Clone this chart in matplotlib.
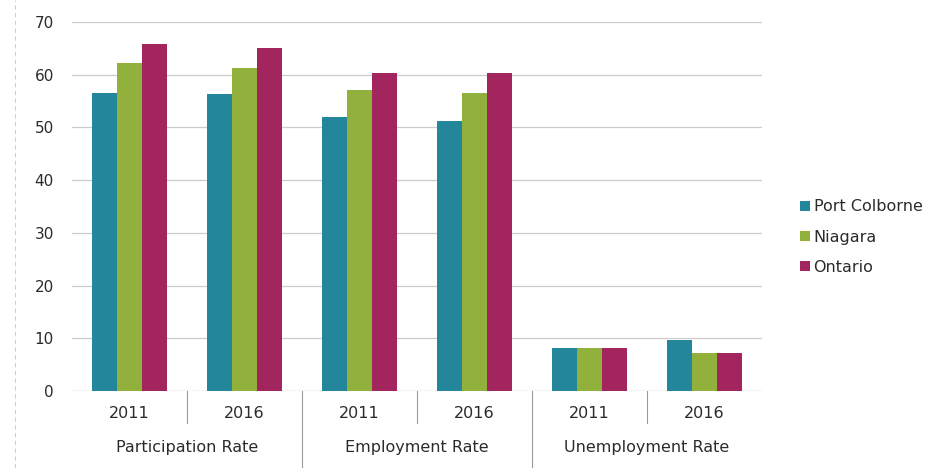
import numpy as np
import matplotlib.pyplot as plt
from matplotlib.lines import Line2D
import matplotlib.transforms as mtransforms

# ---- data ----
groups = ["Participation Rate", "Employment Rate", "Unemployment Rate"]
years = ["2011", "2016"]
series = ["Port Colborne", "Niagara", "Ontario"]
port_colborne = [56.6, 56.3, 51.9, 51.2, 8.2, 9.6]
niagara = [62.3, 61.3, 57.1, 56.6, 8.2, 7.2]
ontario = [65.8, 65.0, 60.4, 60.3, 8.1, 7.3]

colors = ["#23869a", "#91b03c", "#a3255d"]
txt = "#2b2b2b"

fig = plt.figure(figsize=(9.33, 4.68), dpi=100)
ax = fig.add_axes([72/933, 1-391/468, 690/933, 369/468])

n = len(port_colborne)
x = np.arange(n)
w = 0.218
for i, (vals, c, lab) in enumerate(zip([port_colborne, niagara, ontario], colors, series)):
    ax.bar(x + (i-1)*w, vals, width=w, color=c, label=lab, zorder=3)

ax.set_xlim(-0.5, n-0.5)
ax.set_ylim(0, 70)
ax.set_yticks(range(0, 71, 10))
ax.yaxis.grid(True, color="#cccccc", linewidth=0.9, zorder=0)
ax.tick_params(axis="y", length=0, pad=13, labelsize=11, labelcolor=txt)
ax.set_xticks([])
for s in ax.spines.values():
    s.set_visible(False)
ax.axhline(0, color="#bbbbbb", lw=0.8, zorder=2)

# two-level category axis
trans = mtransforms.blended_transform_factory(ax.transData, ax.transAxes)
for i in range(n):
    ax.text(x[i], -0.062, years[i % 2], transform=trans, ha="center", va="center",
            fontsize=11.5, color=txt)
for g, name in enumerate(groups):
    ax.text(2*g + 0.5, -0.154, name, transform=trans, ha="center", va="center",
            fontsize=11.5, color=txt)
for i in range(1, n):
    bottom = -0.21 if i % 2 == 0 else -0.087
    ax.plot([i-0.5, i-0.5], [0, bottom], transform=trans, color="#9a9a9a",
            lw=0.8, clip_on=False)

# faint left border from the scan
fig.add_artist(Line2D([15/933, 15/933], [0, 1], color="#cfcfcf", lw=0.8, ls=(0, (4, 3))))

fig.legend(loc="center left", bbox_to_anchor=(792/933, 1-237/468), frameon=False,
           fontsize=11.5, handlelength=0.6, handleheight=0.6, handletextpad=0.25,
           labelspacing=0.95, borderpad=0, labelcolor=txt)

fig.savefig("out.png", dpi=100)
